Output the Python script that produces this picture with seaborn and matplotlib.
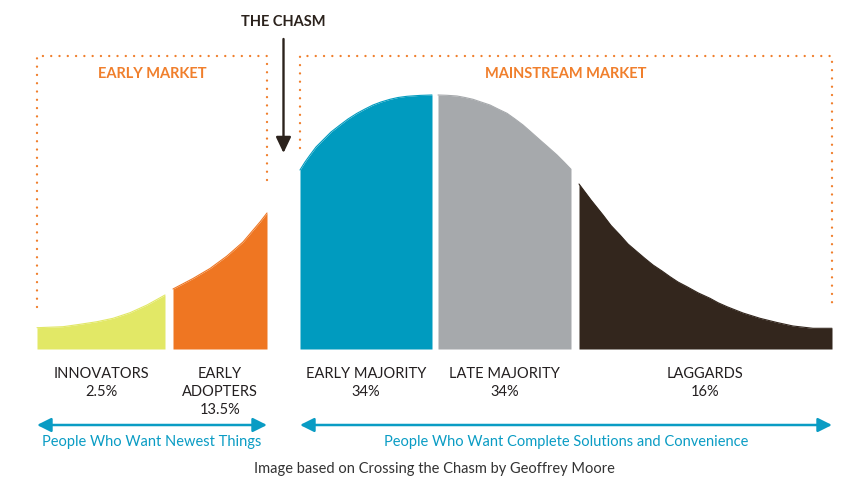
import matplotlib
matplotlib.use("Agg")
import matplotlib.pyplot as plt
import seaborn as sns
import pandas as pd

# segments of the adoption curve
segments = ["INNOVATORS", "EARLY\nADOPTERS", "EARLY MAJORITY", "LATE MAJORITY", "LAGGARDS"]
shares = ["2.5%", "13.5%", "34%", "34%", "16%"]
colors = ["#e2e866", "#ef7622", "#009bbf", "#a6a9ac", "#33261d"]

# curve top: position along the axis, height above baseline
innov_x = [37, 63, 80, 97, 113, 130, 147, 165]
innov_h = [21.3, 22.3, 24.7, 27.3, 30.7, 36.3, 44, 54]
adopt_x = [173, 193, 210, 227, 243, 260, 267]
adopt_h = [60, 70.5, 80.5, 93, 107, 127, 136]
early_x = [300, 305, 310, 316, 323, 331, 340, 348, 357, 365, 373, 381, 390, 398, 407, 420, 432]
early_h = [179, 187, 194, 202, 209, 217, 224, 230, 235.7, 240, 244, 247, 249.7, 251.5, 252.7, 253.6, 254]
late_x = [438, 447, 457, 465, 473, 481, 490, 498, 507, 515, 523, 531, 540, 548, 557, 564, 571]
late_h = [254, 253.7, 253, 251.5, 249.7, 247, 244, 240, 235.7, 230, 224, 217, 209, 202, 194, 187, 179.7]
lag_x = [579, 591, 603, 611, 620, 628, 637, 645, 653, 662, 670, 678, 687, 698, 710, 718, 727, 743, 760, 777, 793, 813, 832]
lag_h = [165, 149, 134, 123.5, 114, 105, 97.3, 90.5, 84, 78, 72.3, 67, 62.3, 56.2, 50.7, 46.3, 42.3, 36, 30.7, 26.5, 23, 20.7, 20.7]

curve = pd.concat([
    pd.DataFrame({"x": xs, "h": hs, "segment": name})
    for name, xs, hs in zip(segments,
                            [innov_x, adopt_x, early_x, late_x, lag_x],
                            [innov_h, adopt_h, early_h, late_h, lag_h])
])

markets = ["EARLY MARKET", "MAINSTREAM MARKET"]
audiences = ["People Who Want Newest Things",
             "People Who Want Complete Solutions and Convenience"]
chasm_label = "THE CHASM"
credit = "Image based on Crossing the Chasm by Geoffrey Moore"

sns.set_theme(style="white")
plt.rcParams["font.family"] = ["Lato", "DejaVu Sans"]

BASE = 349  # baseline, in pixels from the top
W, H = 868, 500


def yy(ypix):
    return BASE - ypix


fig = plt.figure(figsize=(W / 100, H / 100), dpi=100)
ax = fig.add_axes([0, 0, 1, 1])
ax.set_xlim(0, W)
ax.set_ylim(BASE - H, BASE)
ax.axis("off")

# filled segments
for (name, grp), col in zip(curve.groupby("segment", sort=False), colors):
    ax.fill_between(grp["x"], 0, grp["h"], color=col, lw=0)
sns.lineplot(data=curve, x="x", y="h", hue="segment", palette=colors,
             sort=False, legend=False, lw=0.8, ax=ax, estimator=None)

# segment labels
for (name, grp), share in zip(curve.groupby("segment", sort=False), shares):
    cx = (grp["x"].min() + grp["x"].max()) / 2
    ax.text(cx, yy(367), f"{name}\n{share}", ha="center", va="top",
            fontsize=10.5, color="#231f20", linespacing=1.35)

# dotted market boxes
orange = "#f07f2c"
dot = dict(color=orange, lw=1.7, linestyle=(0, (0.01, 3.5)),
           dash_capstyle="round", solid_capstyle="round")
left_x, left_r = innov_x[0], adopt_x[-1]
right_l, right_r = early_x[0], lag_x[-1]
ax.plot([left_x, left_x, left_r, left_r], [yy(307), yy(56), yy(56), yy(184)], **dot)
ax.plot([right_l, right_l, right_r, right_r], [yy(148), yy(56), yy(56), yy(303)], **dot)
ax.text((left_x + left_r) / 2, yy(74), markets[0], ha="center", va="center",
        fontsize=10.5, fontweight="bold", color=orange)
ax.text((right_l + right_r) / 2, yy(74), markets[1], ha="center", va="center",
        fontsize=10.5, fontweight="bold", color=orange)

# the chasm arrow
dark = "#2b221c"
chasm_x = (left_r + right_l) / 2
ax.text(chasm_x, yy(22), chasm_label, ha="center", va="center",
        fontsize=10.5, fontweight="bold", color=dark)
ax.annotate("", xy=(chasm_x, yy(153)), xytext=(chasm_x, yy(39)),
            arrowprops=dict(arrowstyle="-|>,head_length=0.8,head_width=0.38",
                            color=dark, lw=1.7, shrinkA=0, shrinkB=0))

# audience arrows
cyan = "#0a9cc4"
for (x0, x1), label in zip([(left_x, left_r), (right_l, right_r)], audiences):
    ax.annotate("", xy=(x1, yy(425)), xytext=(x0, yy(425)),
                arrowprops=dict(arrowstyle="<|-|>,head_length=0.7,head_width=0.35",
                                color=cyan, lw=1.8, shrinkA=0, shrinkB=0))
    ax.text((x0 + x1) / 2, yy(442), label, ha="center", va="center",
            fontsize=10.5, color=cyan)

ax.text(W / 2, yy(469), credit, ha="center", va="center", fontsize=10.5, color="#333333")

fig.savefig("out.png", dpi=100, facecolor="white")
